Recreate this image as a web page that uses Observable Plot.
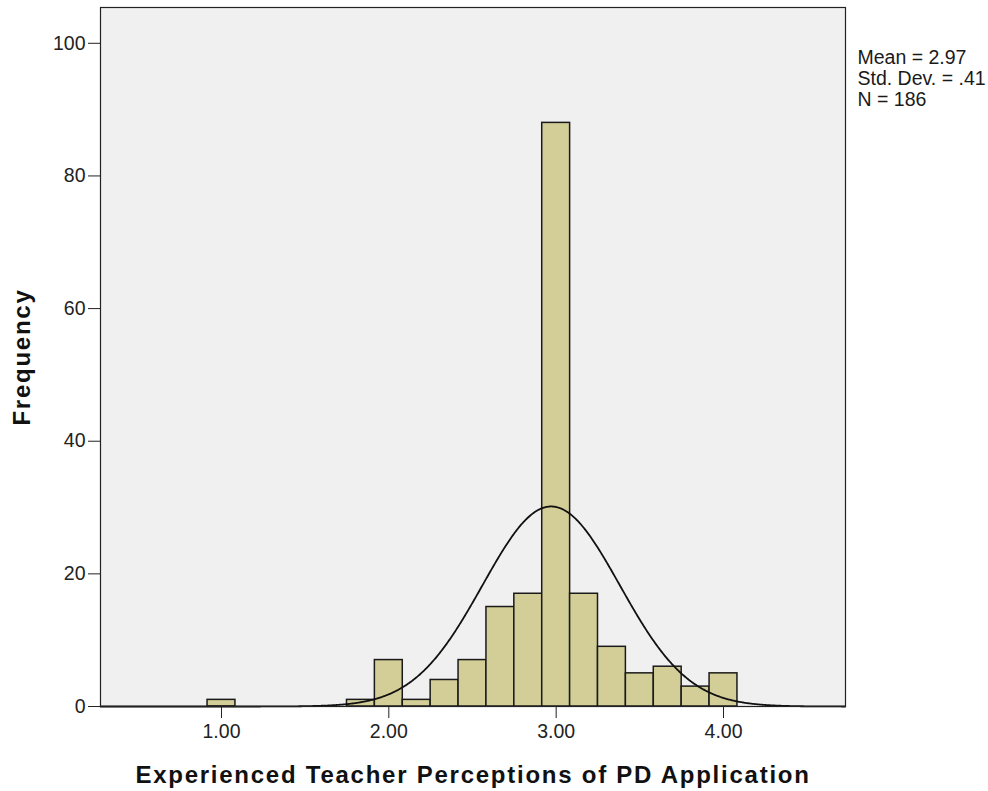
<!DOCTYPE html>
<html><head><meta charset="utf-8">
<script src="https://cdn.jsdelivr.net/npm/d3@7"></script>
<script src="https://cdn.jsdelivr.net/npm/@observablehq/plot@0.6"></script>
<style>body{margin:0;background:#fff} g[font-weight="bold"] text{letter-spacing:1.75px}</style>
</head><body><div id="chart"></div>
<script>
// Histogram bins (midpoints) and frequencies
const binMids = [1.0, 11/6, 2.0, 13/6, 7/3, 2.5, 8/3, 17/6, 3.0, 19/6, 10/3, 3.5, 11/3, 23/6, 4.0];
const counts  = [1, 1, 7, 1, 4, 7, 15, 17, 88, 17, 9, 5, 6, 3, 5];
const binWidth = 1/6;
// Summary statistics shown on the chart
const mean = 2.97, sd = 0.41, n = 186;
const statLines = ["Mean = 2.97", "Std. Dev. = .41", "N = 186"];
// Axis ticks
const xTicks = [1, 2, 3, 4];
const yTicks = [0, 20, 40, 60, 80, 100];
const xTitle = "Experienced Teacher Perceptions of PD Application";
const yTitle = "Frequency";

const xDomain = [0.277, 4.729];
const yDomain = [0, 105.4];

const bins = binMids.map((m, i) => ({x1: m - binWidth/2, x2: m + binWidth/2, count: counts[i]}));
// fitted normal curve from the stated mean / sd / N
const curve = d3.range(xDomain[0], xDomain[1] + 0.001, 0.005).map(x => ({
  x, y: n * binWidth * Math.exp(-0.5 * ((x - mean)/sd) ** 2) / (sd * Math.sqrt(2*Math.PI))
}));

const font = "'Liberation Sans', Arial, sans-serif";
const chart = Plot.plot({
  width: 988, height: 791,
  marginLeft: 100, marginRight: 143, marginTop: 7, marginBottom: 85,
  style: {fontFamily: font, fontSize: "19px", color: "#1a1a1a", background: "#fff"},
  x: {domain: xDomain},
  y: {domain: yDomain},
  marks: [
    Plot.frame({fill: "#f0f0f0"}),
    Plot.rectY(bins, {x1: "x1", x2: "x2", y: "count", fill: "#d3ce97", stroke: "#1a1a1a", strokeWidth: 1.5}),
    Plot.line(curve, {x: "x", y: "y", stroke: "#111", strokeWidth: 1.8}),
    Plot.frame({stroke: "#222", strokeWidth: 1.2}),
    Plot.axisX({ticks: xTicks, tickFormat: d3.format(".2f"), tickSize: 12, tickPadding: 6, label: null, fontSize: 19.5, color: "#222"}),
    Plot.axisY({ticks: yTicks, tickSize: 12, tickPadding: 3, label: null, fontSize: 19.5, color: "#222"}),
    Plot.text([statLines.join("\n")], {frameAnchor: "top-right", textAnchor: "start", lineAnchor: "top", dx: 12, dy: 42, fontSize: 19.5, lineHeight: 1.07, fill: "#1a1a1a"}),
    Plot.text([xTitle], {frameAnchor: "bottom", textAnchor: "middle", lineAnchor: "middle", dy: 69, fontSize: 24, fontWeight: "bold", fill: "#111"}),
    Plot.text([yTitle], {frameAnchor: "left", textAnchor: "middle", lineAnchor: "middle", rotate: -90, dx: -78, fontSize: 24, fontWeight: "bold", fill: "#111"})
  ]
});
document.getElementById("chart").appendChild(chart);
</script>
</body></html>
